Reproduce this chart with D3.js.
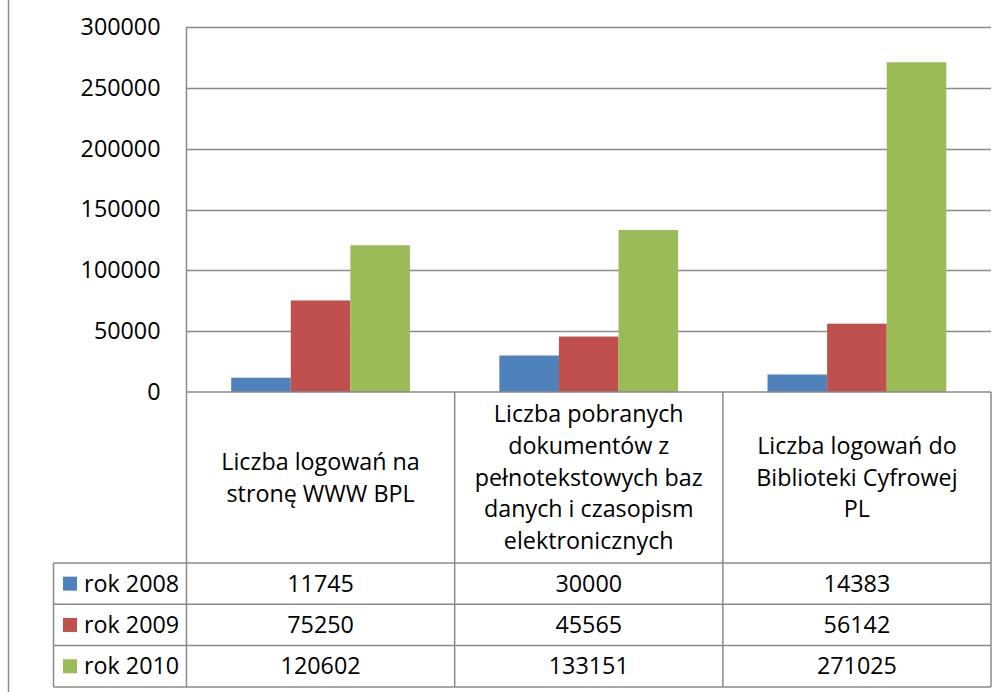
<!DOCTYPE html>
<html>
<head>
<meta charset="utf-8">
<script src="https://cdn.jsdelivr.net/npm/d3@7"></script>
<style>
  html, body { margin: 0; padding: 0; background: #fff; }
  svg { display: block; font-family: "Open Sans", Lato, sans-serif; }
</style>
</head>
<body>
<svg id="chart" width="1006" height="692"></svg>
<script>
// ---- data ----
const categories = [
  "Liczba logowań na stronę WWW BPL",
  "Liczba pobranych dokumentów z pełnotekstowych baz danych i czasopism elektronicznych",
  "Liczba logowań do Biblioteki Cyfrowej PL"
];
const categoryLines = [
  ["Liczba logowań na", "stronę WWW BPL"],
  ["Liczba pobranych", "dokumentów z", "pełnotekstowych baz", "danych i czasopism", "elektronicznych"],
  ["Liczba logowań do", "Biblioteki Cyfrowej", "PL"]
];
const seriesNames = ["rok 2008", "rok 2009", "rok 2010"];
const values2008 = [11745, 30000, 14383];
const values2009 = [75250, 45565, 56142];
const values2010 = [120602, 133151, 271025];
const seriesValues = [values2008, values2009, values2010];
const seriesColors = ["#4F81BD", "#C0504D", "#9BBB59"];
const yTicks = [0, 50000, 100000, 150000, 200000, 250000, 300000];

// ---- layout ----
const svg = d3.select("#chart");
const plotLeft = 186.5, plotRight = 991, plotTop = 27, plotBottom = 392;
const headerBottom = 563, rowH = 41.3, tableLeft = 53.5;
const fontSize = 23.3;
const fontFamily = "'Open Sans', Lato, sans-serif";
const lineColor = "#8a8a8a";

const x0 = d3.scaleBand().domain(d3.range(categories.length)).range([plotLeft, plotRight]).padding(0);
const x1 = d3.scaleBand().domain(d3.range(seriesNames.length)).range([0, x0.bandwidth()])
  .paddingInner(0).paddingOuter(0.75);
const y = d3.scaleLinear().domain([0, 300000]).range([plotBottom, plotTop]);

// outer left frame line
svg.append("line").attr("x1", 8.5).attr("x2", 8.5).attr("y1", 0).attr("y2", 692)
  .attr("stroke", lineColor).attr("stroke-width", 1.5);

// y axis labels
const yAxis = d3.axisLeft(y).tickValues(yTicks).tickSize(0).tickPadding(26).tickFormat(d3.format("d"));
const gAxis = svg.append("g").attr("transform", `translate(${plotLeft},0)`).call(yAxis);
gAxis.select(".domain").remove();
gAxis.selectAll("text").attr("font-size", fontSize).attr("fill", "#000")
  .attr("font-family", fontFamily);

// gridlines
svg.append("g").selectAll("line").data(yTicks.filter(d => d > 0)).join("line")
  .attr("x1", plotLeft).attr("x2", plotRight)
  .attr("y1", d => Math.round(y(d)) + 0.5).attr("y2", d => Math.round(y(d)) + 0.5)
  .attr("stroke", lineColor).attr("stroke-width", 1.5);

// bars
const groups = svg.append("g").selectAll("g").data(categories).join("g")
  .attr("transform", (d, i) => `translate(${x0(i)},0)`);
groups.selectAll("rect").data((d, i) => seriesValues.map((vals, s) => ({ s, v: vals[i] }))).join("rect")
  .attr("x", d => x1(d.s)).attr("width", x1.bandwidth())
  .attr("y", d => y(d.v)).attr("height", d => y(0) - y(d.v))
  .attr("fill", d => seriesColors[d.s]);

// table lines
const tbl = svg.append("g").attr("stroke", lineColor).attr("stroke-width", 1.5).attr("fill", "none");
const tableBottom = headerBottom + rowH * seriesNames.length;
tbl.append("line").attr("x1", plotLeft).attr("x2", plotRight).attr("y1", plotBottom).attr("y2", plotBottom);
tbl.append("line").attr("x1", plotLeft).attr("x2", plotLeft).attr("y1", plotTop).attr("y2", tableBottom);
d3.range(1, categories.length + 1).forEach(i => {
  const xx = i < categories.length ? x0(i) : plotRight;
  tbl.append("line").attr("x1", xx).attr("x2", xx).attr("y1", plotBottom).attr("y2", tableBottom);
});
tbl.append("line").attr("x1", tableLeft).attr("x2", tableLeft).attr("y1", headerBottom).attr("y2", tableBottom);
d3.range(seriesNames.length + 1).forEach(r => {
  const yy = headerBottom + r * rowH;
  tbl.append("line").attr("x1", tableLeft).attr("x2", plotRight).attr("y1", yy).attr("y2", yy);
});

// category header labels
const lineH = 31.7;
const headerMid = (plotBottom + headerBottom) / 2;
categoryLines.forEach((lines, i) => {
  const cx = x0(i) + x0.bandwidth() / 2;
  const t = svg.append("text").attr("text-anchor", "middle").attr("font-size", fontSize)
    .attr("font-family", fontFamily).attr("fill", "#000");
  lines.forEach((ln, k) => {
    t.append("tspan").attr("x", cx)
      .attr("y", headerMid + (k - (lines.length - 1) / 2) * lineH)
      .attr("dy", "0.35em").text(ln);
  });
});

// table rows
seriesNames.forEach((name, s) => {
  const cy = headerBottom + s * rowH + rowH / 2;
  svg.append("rect").attr("x", 63).attr("y", cy - 7).attr("width", 14).attr("height", 14)
    .attr("fill", seriesColors[s]);
  svg.append("text").attr("x", 84).attr("y", cy).attr("dy", "0.35em")
    .attr("font-size", fontSize).attr("font-family", fontFamily).attr("fill", "#000").text(name);
  seriesValues[s].forEach((v, i) => {
    svg.append("text").attr("x", x0(i) + x0.bandwidth() / 2).attr("y", cy).attr("dy", "0.35em")
      .attr("text-anchor", "middle").attr("font-size", fontSize).attr("font-family", fontFamily)
      .attr("fill", "#000").text(v);
  });
});
</script>
</body>
</html>
